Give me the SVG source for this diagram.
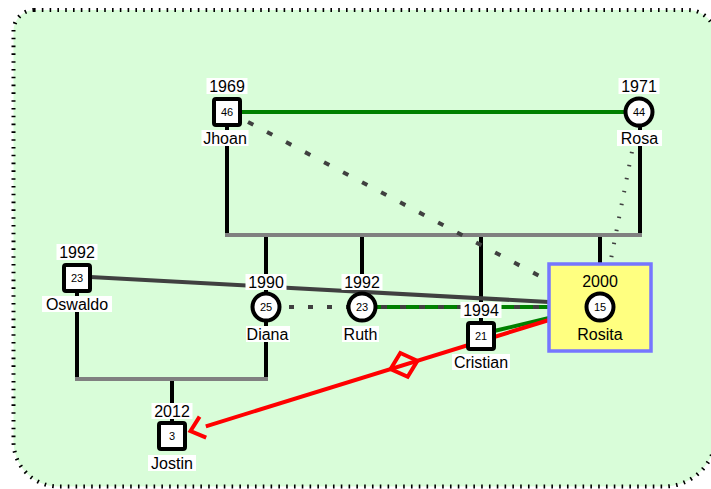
<svg xmlns="http://www.w3.org/2000/svg" width="711" height="489" viewBox="0 0 711 489">
  <style>
    .bg { fill: #d9fdd9; stroke: #000; stroke-width: 4; stroke-dasharray: 1.6 6.2; }
    .kin { stroke: #000; stroke-width: 4; fill: none; }
    .bar { stroke: #808080; stroke-width: 4; fill: none; }
    .wed { stroke: #008000; stroke-width: 4; fill: none; }
    .grey { stroke: #404040; stroke-width: 4; fill: none; }
    .dash { stroke: #404040; stroke-width: 4; fill: none; stroke-dasharray: 6 15.5; }
    .dots { stroke: #404040; stroke-width: 4; fill: none; stroke-dasharray: 5 14; }
    .ticks { stroke: #404040; stroke-width: 4; fill: none; stroke-dasharray: 1.5 11.7; }
    .abuse { stroke: #ff0000; stroke-width: 4; fill: none; }
    .male { fill: #fff; stroke: #000; stroke-width: 4; }
    .female { fill: #fff; stroke: #000; stroke-width: 4; }
    .lbl { fill: #fff; }
    .t { font-family: "Liberation Sans", Arial, sans-serif; font-size: 16px; fill: #000; text-anchor: middle; }
    .age { font-family: "Liberation Sans", Arial, sans-serif; font-size: 11px; fill: #000; text-anchor: middle; }
  </style>

  <!-- canvas -->
  <path class="bg" d="M 34 10 H 688 A 28 28 0 0 1 716 38 V 434 A 52 52 0 0 1 664 486.5 H 58 A 45 45 0 0 1 13.5 441 V 31 A 21 21 0 0 1 34 10 Z"/>

  <g id="connectors">
    <!-- couple Jhoan / Rosa -->
    <line class="wed" x1="240" y1="112" x2="626" y2="112"/>
    <line class="kin" x1="227" y1="126" x2="227" y2="235"/>
    <line class="kin" x1="640" y1="126" x2="640" y2="235"/>
    <line class="kin" x1="266" y1="235" x2="266" y2="295"/>
    <line class="kin" x1="362" y1="235" x2="362" y2="295"/>
    <line class="kin" x1="481" y1="235" x2="481" y2="324"/>
    <line class="kin" x1="600" y1="235" x2="600" y2="264"/>
    <line class="bar" x1="225" y1="235" x2="642" y2="235"/>

    <!-- couple Oswaldo / Diana -->
    <line class="kin" x1="77" y1="291" x2="77" y2="379"/>
    <line class="kin" x1="266" y1="320" x2="266" y2="379"/>
    <line class="kin" x1="172" y1="379" x2="172" y2="424"/>
    <line class="bar" x1="75" y1="379" x2="268" y2="379"/>

    <!-- emotional relations -->
    <line class="dash" x1="248" y1="122" x2="549" y2="281"/>
    <line class="ticks" x1="637" y1="126" x2="610" y2="264"/>
    <line class="grey" x1="90" y1="277" x2="549" y2="302"/>
    <line class="dots" x1="289" y1="307" x2="348" y2="307"/>
    <line class="wed" x1="375" y1="307" x2="549" y2="307"/>
    <line class="grey" x1="381" y1="307" x2="549" y2="307" stroke-dasharray="6 13"/>
    <line class="wed" x1="494" y1="331" x2="549" y2="318"/>

    <!-- Rosita to Jostin -->
    <line class="abuse" x1="549" y1="320" x2="205.8" y2="426.3"/>
    <polyline class="abuse" points="199.6,416.6 190.5,431 206.2,437.7"/>
    <polygon class="abuse" fill="#d9fdd9" points="390.6,369 400.3,353 417.4,360.8 407.7,376.8"/>
  </g>

  <g id="node-jhoan">
    <rect class="male" x="214" y="99" width="26" height="26" rx="2"/>
    <text class="age" x="227" y="116">46</text>
    <rect class="lbl" x="206.5" y="78" width="41" height="16"/>
    <text class="t" x="227" y="92">1969</text>
    <rect class="lbl" x="201.5" y="130" width="47" height="16"/>
    <text class="t" x="225" y="144">Jhoan</text>
  </g>

  <g id="node-rosa">
    <circle class="female" cx="639" cy="112" r="13.5"/>
    <text class="age" x="639" y="116">44</text>
    <rect class="lbl" x="618.5" y="78" width="41" height="16"/>
    <text class="t" x="639" y="92">1971</text>
    <rect class="lbl" x="617" y="130" width="45" height="16"/>
    <text class="t" x="639.5" y="144">Rosa</text>
  </g>

  <g id="node-oswaldo">
    <rect class="male" x="64" y="265" width="26" height="26" rx="2"/>
    <text class="age" x="77" y="282">23</text>
    <rect class="lbl" x="56.5" y="244" width="41" height="16"/>
    <text class="t" x="77" y="258">1992</text>
    <rect class="lbl" x="42" y="296" width="70" height="16"/>
    <text class="t" x="77" y="310">Oswaldo</text>
  </g>

  <g id="node-diana">
    <circle class="female" cx="266" cy="307" r="13.5"/>
    <text class="age" x="266" y="311">25</text>
    <rect class="lbl" x="245.5" y="274" width="41" height="16"/>
    <text class="t" x="266" y="288">1990</text>
    <rect class="lbl" x="246" y="326" width="44" height="16"/>
    <text class="t" x="267.5" y="340">Diana</text>
  </g>

  <g id="node-ruth">
    <circle class="female" cx="362" cy="307" r="13.5"/>
    <text class="age" x="362" y="311">23</text>
    <rect class="lbl" x="341.5" y="274" width="41" height="16"/>
    <text class="t" x="362" y="288">1992</text>
    <rect class="lbl" x="342" y="326" width="37" height="16"/>
    <text class="t" x="360.5" y="340">Ruth</text>
  </g>

  <g id="node-cristian">
    <rect class="male" x="468" y="323" width="26" height="26" rx="2"/>
    <text class="age" x="481" y="340">21</text>
    <rect class="lbl" x="460.5" y="302" width="41" height="16"/>
    <text class="t" x="481" y="316">1994</text>
    <rect class="lbl" x="452" y="354" width="58" height="16"/>
    <text class="t" x="481" y="368">Cristian</text>
  </g>

  <g id="node-rosita">
    <rect x="549" y="264" width="102" height="87" fill="#ffff80" stroke="#7676ff" stroke-width="3.5"/>
    <circle class="female" cx="600" cy="307" r="13.5"/>
    <text class="age" x="600" y="311">15</text>
    <text class="t" x="600" y="287">2000</text>
    <text class="t" x="600" y="340">Rosita</text>
  </g>

  <g id="node-jostin">
    <rect class="male" x="159" y="423" width="26" height="26" rx="2"/>
    <text class="age" x="172" y="440">3</text>
    <rect class="lbl" x="151.5" y="403" width="41" height="16"/>
    <text class="t" x="172" y="417">2012</text>
    <rect class="lbl" x="148" y="455" width="48" height="16"/>
    <text class="t" x="172" y="469">Jostin</text>
  </g>
</svg>
